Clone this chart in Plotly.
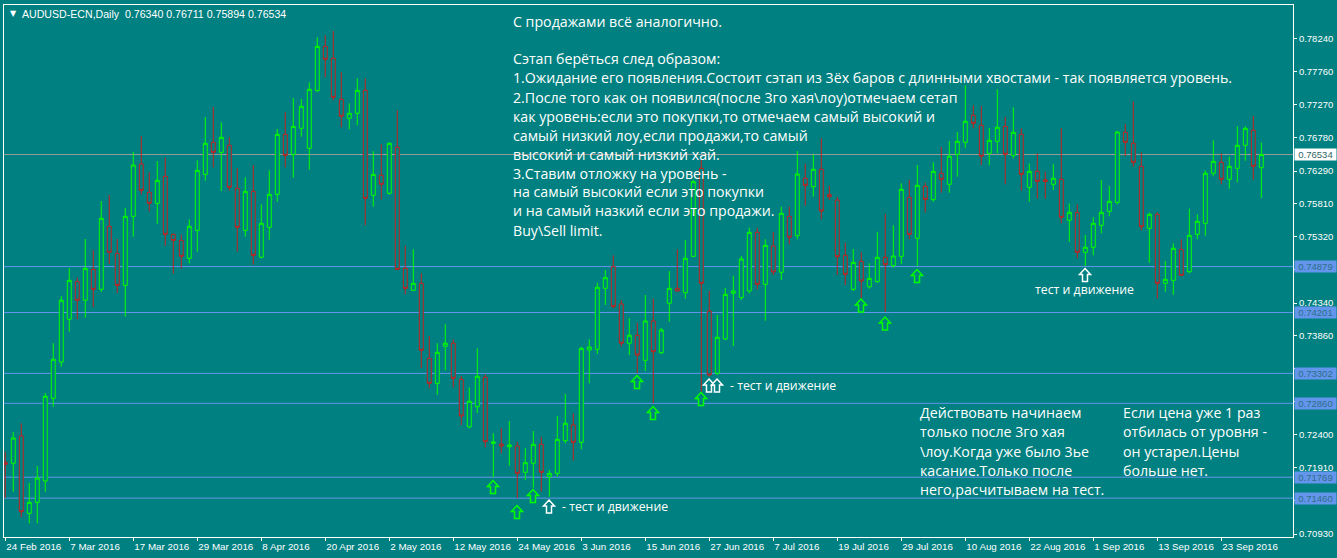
import plotly.graph_objects as go

# ---------------- data ----------------
bar_no = list(range(158))   # daily bars 24 Feb 2016 .. 30 Sep 2016

open_ = [0.71989,0.71974,0.72377,0.71235,0.71398,0.71713,0.72934,0.73470,0.74101,0.74656,
         0.74382,0.74838,0.74543,0.75474,0.75075,0.74602,0.75621,0.76394,0.75975,0.75813,
         0.76212,0.75355,0.75266,0.75001,0.75414,0.76241,0.76714,0.76566,0.76670,0.76035,
         0.75414,0.75990,0.75016,0.75459,0.75946,0.76832,0.76537,0.76921,0.76626,0.77477,
         0.78132,0.77955,0.77350,0.77069,0.77143,0.77482,0.75932,0.76227,0.75961,0.76641,
         0.74853,0.74529,0.74632,0.73525,0.73155,0.73702,0.73747,0.73214,0.72512,0.72810,
         0.73244,0.72269,0.72259,0.72219,0.72229,0.71841,0.71974,0.72255,0.71776,0.71826,
         0.72308,0.72540,0.72284,0.73647,0.73658,0.74558,0.74877,0.74327,0.73747,0.73865,
         0.73495,0.74076,0.73607,0.74337,0.74558,0.74494,0.75030,0.76330,0.74223,0.73303,
         0.73810,0.74485,0.74420,0.74519,0.75385,0.74617,0.75183,0.74795,0.75621,0.75335,
         0.76183,0.76059,0.76316,0.75941,0.75862,0.75046,0.74543,0.74957,0.74582,0.74656,
         0.75016,0.74892,0.75030,0.75902,0.75297,0.76064,0.75867,0.76257,0.76094,0.76537,
         0.76714,0.77113,0.76966,0.76552,0.76729,0.76950,0.76522,0.76832,0.76050,0.76286,
         0.76160,0.76094,0.76168,0.75563,0.75675,0.75090,0.75164,0.75489,0.75695,0.75828,
         0.76862,0.76699,0.76360,0.75444,0.75651,0.74632,0.74676,0.75129,0.74804,0.75355,
         0.75518,0.76257,0.76419,0.76168,0.76330,0.76670,0.76892,0.76340]
high = [0.72145,0.72436,0.72565,0.71683,0.71934,0.73013,0.73747,0.74444,0.74858,0.74720,
        0.75286,0.75124,0.75847,0.75936,0.75286,0.75744,0.76571,0.76807,0.76271,0.76438,
        0.76491,0.75370,0.75355,0.75577,0.76448,0.77088,0.77236,0.77009,0.76788,0.76329,
        0.76197,0.76379,0.75798,0.76300,0.76911,0.77157,0.77369,0.77354,0.77601,0.78265,
        0.78295,0.78358,0.77748,0.77290,0.77660,0.77660,0.76582,0.76685,0.76714,0.77187,
        0.75187,0.75134,0.74780,0.73854,0.73747,0.74027,0.73806,0.73263,0.73096,0.73672,
        0.73288,0.72417,0.72491,0.72599,0.72293,0.72196,0.72451,0.72367,0.71875,0.72673,
        0.72998,0.72713,0.73696,0.73806,0.74641,0.74829,0.75046,0.74386,0.74115,0.74051,
        0.74460,0.74405,0.73972,0.74814,0.75134,0.75272,0.76158,0.76453,0.74519,0.74164,
        0.74563,0.74745,0.75035,0.75453,0.75453,0.75282,0.75390,0.75764,0.75764,0.76586,
        0.76399,0.76537,0.76778,0.76074,0.75911,0.75233,0.75139,0.75090,0.74928,0.75394,
        0.75656,0.75489,0.76109,0.76158,0.76379,0.76118,0.76419,0.76645,0.76734,0.76867,
        0.77556,0.77261,0.77251,0.76926,0.77497,0.77092,0.77231,0.76921,0.76404,0.76552,
        0.76280,0.76390,0.76921,0.75813,0.75798,0.75345,0.75607,0.76158,0.76069,0.76877,
        0.76985,0.77320,0.76566,0.75675,0.75685,0.74962,0.75223,0.75282,0.75734,0.75651,
        0.76300,0.76744,0.76552,0.76502,0.76951,0.76951,0.77103,0.76711]
low = [0.71462,0.71555,0.71177,0.71088,0.71088,0.71555,0.72810,0.73401,0.73918,0.74101,
       0.74125,0.74278,0.74504,0.74917,0.74489,0.74139,0.75320,0.75941,0.75695,0.75512,
       0.75186,0.74774,0.74848,0.74927,0.75099,0.76147,0.76345,0.75995,0.76000,0.75099,
       0.75320,0.74907,0.75001,0.75276,0.75837,0.76345,0.76192,0.76797,0.76310,0.77462,
       0.77674,0.77335,0.76936,0.76906,0.76966,0.75489,0.75764,0.75872,0.75941,0.74830,
       0.74469,0.74520,0.73377,0.73081,0.72987,0.73347,0.73096,0.72540,0.72491,0.72717,
       0.72210,0.71767,0.72122,0.71939,0.71457,0.71728,0.71614,0.71555,0.71481,0.71776,
       0.72269,0.72013,0.72181,0.73155,0.73588,0.74312,0.74263,0.73696,0.73573,0.73303,
       0.73341,0.72860,0.73588,0.74066,0.74510,0.74405,0.75020,0.73031,0.73253,0.73278,
       0.73795,0.73706,0.74386,0.74485,0.74543,0.74080,0.74755,0.74681,0.75209,0.75282,
       0.75778,0.75911,0.75577,0.75862,0.74755,0.74607,0.74519,0.74411,0.74553,0.74641,
       0.74213,0.74863,0.74917,0.75282,0.74888,0.75675,0.75837,0.75970,0.75970,0.76207,
       0.76626,0.76921,0.76379,0.76375,0.76552,0.76094,0.76478,0.76000,0.75837,0.75882,
       0.75882,0.76010,0.75518,0.75246,0.75001,0.74888,0.75046,0.75370,0.75621,0.75798,
       0.76508,0.76354,0.75414,0.74937,0.74405,0.74508,0.74464,0.74745,0.74780,0.75282,
       0.75335,0.76212,0.76094,0.76029,0.76124,0.76443,0.76162,0.75894]
close = [0.71960,0.72348,0.71259,0.71398,0.71757,0.72964,0.73510,0.74382,0.74676,0.74382,
         0.74853,0.74543,0.75591,0.75090,0.74602,0.75621,0.76379,0.76005,0.75813,0.76153,
         0.75355,0.75266,0.75030,0.75474,0.76300,0.76699,0.76566,0.76788,0.76050,0.75459,
         0.75990,0.75045,0.75518,0.75946,0.76832,0.76522,0.76950,0.77246,0.77497,0.78132,
         0.77940,0.77379,0.77099,0.77143,0.77482,0.75887,0.76241,0.76094,0.76699,0.74838,
         0.74558,0.74632,0.73643,0.73155,0.73613,0.73747,0.73229,0.72673,0.72890,0.73259,
         0.72293,0.72289,0.72229,0.72244,0.71826,0.71983,0.72255,0.71841,0.71826,0.72328,
         0.72565,0.72284,0.73672,0.73691,0.74573,0.74715,0.74287,0.73747,0.73865,0.73573,
         0.74076,0.73622,0.73943,0.74558,0.74519,0.75001,0.76133,0.74632,0.73278,0.73835,
         0.74470,0.74519,0.74991,0.75385,0.74617,0.75193,0.74799,0.75666,0.75312,0.76246,
         0.76079,0.76316,0.75700,0.75911,0.75025,0.74765,0.74942,0.74666,0.74706,0.75016,
         0.74907,0.75035,0.76020,0.75355,0.76079,0.75872,0.76286,0.76168,0.76508,0.76729,
         0.77025,0.76995,0.76508,0.76744,0.76936,0.76537,0.76862,0.76241,0.76286,0.76138,
         0.76135,0.76183,0.75607,0.75681,0.75090,0.75164,0.75518,0.75681,0.75843,0.76867,
         0.76714,0.76419,0.75468,0.75651,0.74632,0.74691,0.75149,0.74750,0.75341,0.75548,
         0.76257,0.76434,0.76168,0.76360,0.76670,0.76921,0.76360,0.76534]

date_tick_bars = [0, 8, 16, 24, 32, 40, 48, 56, 64, 72, 80, 88, 96, 104, 112, 120, 128, 136, 144, 152]
date_tick_text = ["24 Feb 2016", "7 Mar 2016", "17 Mar 2016", "29 Mar 2016", "8 Apr 2016",
                  "20 Apr 2016", "2 May 2016", "12 May 2016", "24 May 2016", "3 Jun 2016",
                  "15 Jun 2016", "27 Jun 2016", "7 Jul 2016", "19 Jul 2016", "29 Jul 2016",
                  "10 Aug 2016", "22 Aug 2016", "1 Sep 2016", "13 Sep 2016", "23 Sep 2016"]
price_ticks = [0.78240, 0.77760, 0.77270, 0.76780, 0.76290, 0.75810, 0.75320, 0.74830,
               0.74340, 0.73860, 0.73370, 0.72890, 0.72400, 0.71910, 0.71420, 0.70930]
# scale labels that sit under the level price tags are not readable in the reference
covered_ticks = [0.74830, 0.73370, 0.72890, 0.71420]
level_prices = [0.74879, 0.74201, 0.73302, 0.72860, 0.71769, 0.71460]
last_price = 0.76534

header = "AUDUSD-ECN,Daily\u00a0\u00a00.76340 0.76711 0.75894 0.76534"
main_lines = ["С продажами всё аналогично.", "",
              "Сэтап берёться след образом:",
              "1.Ожидание его появления.Состоит сэтап из 3ёх баров с длинными хвостами - так появляется уровень.",
              "2.После того как он появился(после 3го хая\\лоу)отмечаем сетап",
              "как уровень:если это покупки,то отмечаем самый высокий и",
              "самый низкий лоу,если продажи,то самый",
              "высокий и самый низкий хай.",
              "3.Ставим отложку на уровень -",
              "на самый высокий если это покупки",
              "и на самый назкий если это продажи.",
              "Buy\\Sell limit."]
note1_lines = ["Действовать начинаем", "только после 3го хая", "\\лоу.Когда уже было 3ье",
               "касание.Только после", "него,расчитываем на тест."]
note2_lines = ["Если цена уже 1 раз", "отбилась от уровня -", "он устарел.Цены", "больше нет."]

# ---------------- styling / layout ----------------
BG = "#008080"
BULL = "#00FF00"
BEAR = "#C42020"
LEVEL = "#6495ED"
W, H = 1337, 558
PL, PR, PT, PB = 4, 1293, 5, 537   # plot box in pixels


def fx(px):
    return (px - PL) / (PR - PL)


def fy(py):
    return (PB - py) / (PB - PT)


def up_arrow(cx, cy, color):
    """hollow up-arrow marker (MT4 arrow object) centred at pixel (cx, cy)"""
    pts = [(0, -6.5), (5.5, -0.5), (2.5, -0.5), (2.5, 6.5), (-2.5, 6.5), (-2.5, -0.5), (-5.5, -0.5)]
    d = "M " + " L ".join(f"{fx(cx + dx):.6f},{fy(cy + dy):.6f}" for dx, dy in pts) + " Z"
    return dict(type="path", xref="paper", yref="paper", path=d,
                line=dict(color=color, width=1.5), fillcolor=BG, layer="above")


fig = go.Figure()
fig.add_trace(go.Candlestick(
    x=bar_no, open=open_, high=high, low=low, close=close,
    increasing=dict(line=dict(color=BULL, width=1), fillcolor=BG),
    decreasing=dict(line=dict(color=BEAR, width=1), fillcolor=BG),
    whiskerwidth=0, showlegend=False, hoverinfo="skip"))

shapes = [dict(type="line", xref="paper", x0=0, x1=1, yref="y", y0=last_price, y1=last_price,
               line=dict(color="#9A9A9A", width=1), layer="below")]
for lv in level_prices:
    shapes.append(dict(type="line", xref="paper", x0=0, x1=1, yref="y", y0=lv, y1=lv,
                       line=dict(color=LEVEL, width=1), layer="below"))

# up-arrow markers (pixel centres)
arrows = [(493, 487, BULL), (517, 512, BULL), (533, 496, BULL), (549, 506.5, "white"),
          (637, 382, BULL), (653, 413, BULL), (701, 399, BULL), (709, 385.5, "white"),
          (717, 385.5, "white"), (861, 305.5, BULL), (885, 323.5, BULL), (917, 276, BULL),
          (1085, 275, "white")]
for (px, py, c) in arrows:
    shapes.append(up_arrow(px, py, c))

TXT = "Open Sans"
BIG = 14.2
ann = []
# header
ann.append(dict(xref="paper", yref="paper", x=fx(8), y=fy(13.7), xanchor="left", yanchor="middle",
                text="▼", showarrow=False, font=dict(family="DejaVu Sans", size=8, color="white")))
ann.append(dict(xref="paper", yref="paper", x=fx(20), y=fy(13.7), xanchor="left", yanchor="middle",
                text=header, showarrow=False, font=dict(family="Liberation Sans", size=10.6, color="white")))
# main text block
y0 = 21.0
for k, line in enumerate(main_lines):
    if line:
        ann.append(dict(xref="paper", yref="paper", x=fx(511), y=fy(y0 + 19.0 * k),
                        xanchor="left", yanchor="middle", text=line, showarrow=False,
                        font=dict(family=TXT, size=BIG, color="white")))
for k, line in enumerate(note1_lines):
    ann.append(dict(xref="paper", yref="paper", x=fx(918), y=fy(412.7 + 19.15 * k),
                    xanchor="left", yanchor="middle", text=line, showarrow=False,
                    font=dict(family=TXT, size=BIG, color="white")))
for k, line in enumerate(note2_lines):
    ann.append(dict(xref="paper", yref="paper", x=fx(1121), y=fy(412.7 + 19.15 * k),
                    xanchor="left", yanchor="middle", text=line, showarrow=False,
                    font=dict(family=TXT, size=BIG, color="white")))
# "test and move" notes
for (px, py, t, anc) in [(728, 385.7, "- тест и движение", "left"),
                         (560, 506.5, "- тест и движение", "left"),
                         (1084.5, 289.5, "тест и движение", "center")]:
    ann.append(dict(xref="paper", yref="paper", x=fx(px), y=fy(py), xanchor=anc, yanchor="middle",
                    text=t, showarrow=False, font=dict(family=TXT, size=12.3, color="white")))
# price labels on the right scale
for lv in level_prices:
    ann.append(dict(xref="paper", x=fx(1294), yref="y", y=lv, xanchor="left", yanchor="middle",
                    text=f"{lv:.5f}", showarrow=False, bgcolor=LEVEL, width=41, height=11, borderpad=0,
                    font=dict(family="Liberation Sans", size=9.5, color="#2C6F86")))
ann.append(dict(xref="paper", x=fx(1294), yref="y", y=last_price, xanchor="left", yanchor="middle",
                text=f"{last_price:.5f}", showarrow=False, bgcolor="white", width=41, height=11, borderpad=0,
                font=dict(family="Liberation Sans", size=9.5, color="#2F6464")))

AX_FONT = dict(family="Liberation Sans", size=9.8, color="white")
fig.update_layout(
    width=W, height=H, autosize=False,
    margin=dict(l=PL, r=W - PR, t=PT, b=H - PB, pad=0),
    paper_bgcolor=BG, plot_bgcolor=BG,
    shapes=shapes, annotations=ann,
    xaxis=dict(range=[-0.16, 160.96], showgrid=False, zeroline=False, showline=True,
               linecolor="white", linewidth=1, mirror=True, ticks="outside", ticklen=3,
               tickcolor="white", tickvals=date_tick_bars, ticktext=date_tick_text,
               ticklabelposition="outside right", tickangle=0, automargin=False, tickfont=AX_FONT,
               rangeslider=dict(visible=False), fixedrange=True),
    yaxis=dict(side="right", range=[0.70886, 0.78742], showgrid=False, zeroline=False,
               showline=True, linecolor="white", linewidth=1, mirror=True, ticks="outside",
               ticklen=3, tickcolor="white", tickvals=price_ticks, automargin=False,
               ticktext=["" if v in covered_ticks else f"{v:.5f}" for v in price_ticks],
               tickfont=dict(family="Liberation Sans", size=9.5, color="white"), fixedrange=True),
)

fig.write_html("out.html")
